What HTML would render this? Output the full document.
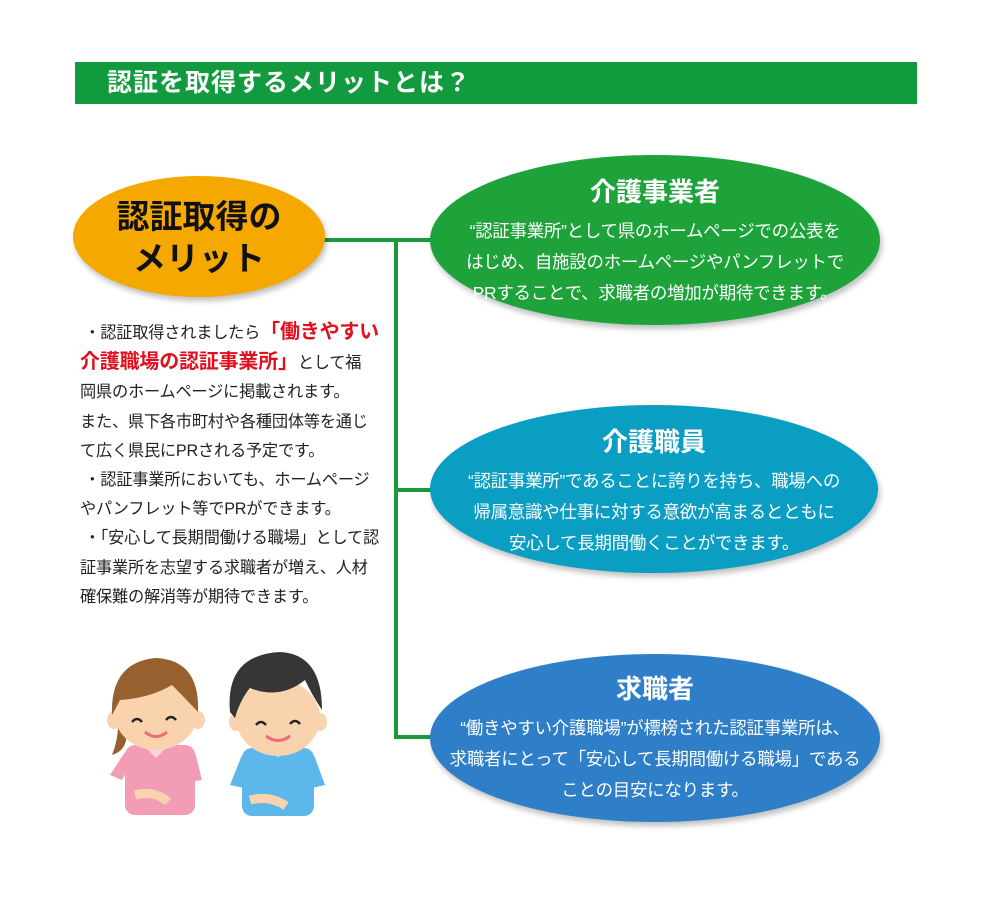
<!DOCTYPE html>
<html><head><meta charset="utf-8"><style>
body{margin:0;width:1000px;height:900px;background:#fff;position:relative;overflow:hidden;font-family:"Liberation Sans","Noto Sans CJK JP",sans-serif;}
.a{position:absolute;}
.bar{left:75px;top:62px;width:842px;height:42px;background:#129a3e;color:#fff;font-size:25px;font-weight:bold;line-height:42px;box-sizing:border-box;padding-left:32px;letter-spacing:1px}
.ell{position:absolute;border-radius:50%;color:#fff;text-align:center;box-shadow:2px 4px 6px rgba(0,0,0,.25)}
.ell h2{margin:0;font-size:26px;font-weight:bold;line-height:30px}
.ell p{margin:9px 0 0;font-size:17.5px;line-height:31px;letter-spacing:-0.3px}
.txt{left:80px;top:318px;width:310px;font-size:16.2px;line-height:29.2px;color:#222;letter-spacing:-0.2px}
.red{color:#e0101f;font-weight:bold;font-size:20px}
.ln{position:absolute;background:#1a9a3c}
</style></head><body>
<div class="a bar">認証を取得するメリットとは？</div>

<div class="ln" style="left:323px;top:238px;width:120px;height:4px"></div>
<div class="ln" style="left:394px;top:238px;width:4px;height:501px"></div>
<div class="ln" style="left:394px;top:488px;width:45px;height:4px"></div>
<div class="ln" style="left:394px;top:735px;width:45px;height:4px"></div>

<div class="ell" style="left:73px;top:176px;width:252px;height:121px;background:#f5a800;color:#111;">
<div style="font-size:33px;font-weight:bold;line-height:42px;margin-top:20px">認証取得の<br>メリット</div></div>

<div class="ell" style="left:430px;top:155px;width:450px;height:170px;background:#1ea33a">
<h2 style="margin-top:22px">介護事業者</h2><p>“認証事業所”として県のホームページでの公表を<br>はじめ、自施設のホームページやパンフレットで<br>PRすることで、求職者の増加が期待できます。</p></div>

<div class="ell" style="left:430px;top:405px;width:448px;height:168px;background:#0a9fc2">
<h2 style="margin-top:22px">介護職員</h2><p>“認証事業所”であることに誇りを持ち、職場への<br>帰属意識や仕事に対する意欲が高まるとともに<br>安心して長期間働くことができます。</p></div>

<div class="ell" style="left:430px;top:654px;width:450px;height:168px;background:#2e7fc8">
<h2 style="margin-top:20px">求職者</h2><p>“働きやすい介護職場”が標榜された認証事業所は、<br>求職者にとって「安心して長期間働ける職場」である<br>ことの目安になります。</p></div>

<div class="a txt">&nbsp;・認証取得されましたら<span class="red">「働きやすい<br>介護職場の認証事業所」</span>として福<br>岡県のホームページに掲載されます。<br>また、県下各市町村や各種団体等を通じ<br>て広く県民にPRされる予定です。<br>&nbsp;・認証事業所においても、ホームページ<br>やパンフレット等でPRができます。<br>&nbsp;・「安心して長期間働ける職場」として認<br>証事業所を志望する求職者が増え、人材<br>確保難の解消等が期待できます。</div>

<svg class="a" style="left:90px;top:640px" width="240" height="180" viewBox="0 0 240 180">
<path d="M22 115 Q28 100 28 85 L36 85 Q40 110 22 115Z" fill="#96602f"/>
<rect x="35" y="105" width="70" height="70" rx="10" fill="#f29db5"/>
<path d="M35 112 L20 135 L32 140 L40 125Z" fill="#f29db5"/>
<path d="M105 112 L112 140 L100 142Z" fill="#f29db5"/>
<path d="M56 108 L66 118 L76 108Z" fill="#fbd3e0"/>
<ellipse cx="66" cy="72" rx="42" ry="38" fill="#f9d3ad"/>
<ellipse cx="24" cy="80" rx="7" ry="9" fill="#f9d3ad"/>
<ellipse cx="108" cy="80" rx="7" ry="9" fill="#f9d3ad"/>
<path d="M22 75 Q20 22 66 18 Q110 20 108 72 Q92 55 82 45 Q60 58 30 60 Q26 68 22 75Z" fill="#96602f"/>
<path d="M42 82 q5 -6 10 0 M76 80 q5 -6 10 0" stroke="#222" stroke-width="2.5" fill="none"/>
<path d="M55 92 q11 9 22 0" stroke="#ec6b7a" stroke-width="3" fill="none"/>
<path d="M45 155 Q65 150 78 162" stroke="#f9d3ad" stroke-width="9" fill="none"/>
<rect x="152" y="108" width="72" height="68" rx="10" fill="#5db7ea"/>
<path d="M152 115 L140 145 L154 148 L160 128Z" fill="#5db7ea"/>
<path d="M224 115 L235 145 L222 148Z" fill="#5db7ea"/>
<path d="M178 108 L188 118 L198 108Z" fill="#a9dcf6"/>
<ellipse cx="188" cy="78" rx="42" ry="38" fill="#f9d3ad"/>
<ellipse cx="146" cy="82" rx="7" ry="9" fill="#f9d3ad"/>
<ellipse cx="230" cy="82" rx="7" ry="9" fill="#f9d3ad"/>
<path d="M140 72 Q135 15 190 12 Q232 14 232 70 Q222 55 215 40 Q190 60 160 48 Q150 60 145 78Z" fill="#363636"/>
<path d="M166 85 q5 -6 10 0 M200 84 q5 -6 10 0" stroke="#222" stroke-width="2.5" fill="none"/>
<path d="M176 96 q12 9 24 0" stroke="#ec6b7a" stroke-width="3" fill="none"/>
<path d="M160 160 Q180 155 196 166" stroke="#f9d3ad" stroke-width="9" fill="none"/>
</svg>
</body></html>
